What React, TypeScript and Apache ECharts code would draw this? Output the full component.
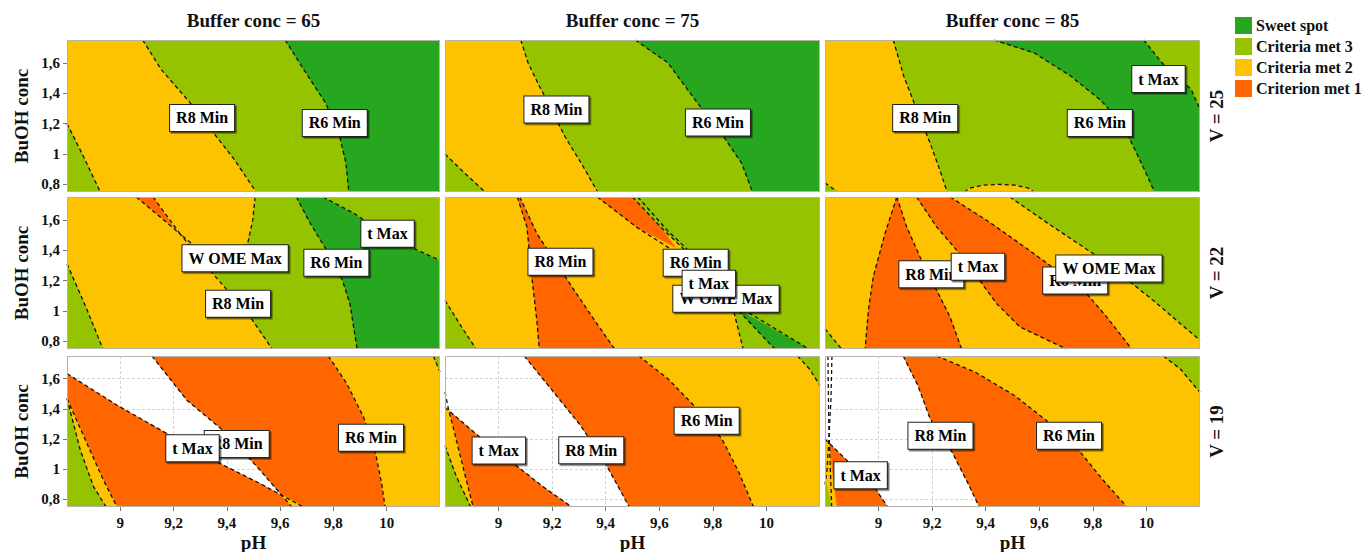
import React, { useEffect, useRef } from 'react';
import * as echarts from 'echarts';

// ---------- axis / facet values ----------
const PH_MIN = 8.8;
const PH_MAX = 10.2;
const BUOH_MIN = 0.75;
const BUOH_MAX = 1.75;
const X_TICKS = [9, 9.2, 9.4, 9.6, 9.8, 10];
const Y_TICKS = [0.8, 1, 1.2, 1.4, 1.6];
const BUFFER_CONCS = [65, 75, 85];
const V_LEVELS = [25, 22, 19];
const CATEGORIES = ['Sweet spot', 'Criteria met 3', 'Criteria met 2', 'Criterion met 1'];

const TL = [PH_MIN, BUOH_MAX];
const TR = [PH_MAX, BUOH_MAX];
const BR = [PH_MAX, BUOH_MIN];
const BL = [PH_MIN, BUOH_MIN];

// ---------- Buffer 65, V 25 ----------
const b65v25Low = [[8.8, 1.2], [8.86, 0.99], [8.925, 0.75]];
const b65v25R8 = [[9.084, 1.75], [9.153, 1.557], [9.262, 1.337], [9.345, 1.15], [9.427, 0.966], [9.51, 0.75]];
const b65v25R6 = [[9.619, 1.75], [9.688, 1.557], [9.77, 1.337], [9.82, 1.139], [9.847, 0.941], [9.858, 0.75]];
const b65v25Labels = [['R8 Min', 9.307, 1.237], ['R6 Min', 9.805, 1.204]];

// ---------- Buffer 75, V 25 ----------
const b75v25Low = [[8.8, 1.0], [8.87, 0.88], [8.95, 0.75]];
const b75v25R8 = [[9.083, 1.75], [9.11, 1.6], [9.152, 1.447], [9.182, 1.348], [9.247, 1.117], [9.315, 0.92], [9.37, 0.75]];
const b75v25R6 = [[9.51, 1.75], [9.632, 1.6], [9.742, 1.337], [9.839, 1.117], [9.907, 0.941], [9.948, 0.75]];
const b75v25Labels = [['R8 Min', 9.216, 1.293], ['R6 Min', 9.819, 1.207]];

// ---------- Buffer 85, V 25 ----------
const b85v25Low = [[8.8, 0.81], [8.848, 0.75]];
const b85v25R8 = [[9.055, 1.75], [9.094, 1.513], [9.147, 1.27], [9.192, 1.073], [9.228, 0.898], [9.256, 0.75]];
const b85v25Bump = [[9.32, 0.75], [9.34, 0.775], [9.39, 0.795], [9.45, 0.8], [9.51, 0.795], [9.56, 0.775], [9.58, 0.75]];
const b85v25R6 = [[9.43, 1.75], [9.58, 1.666], [9.717, 1.513], [9.826, 1.359], [9.908, 1.205], [9.963, 1.007], [10.004, 0.853], [10.03, 0.75]];
const b85v25TMax = [[9.99, 1.75], [10.058, 1.6], [10.167, 1.425], [10.2, 1.295]];
const b85v25Labels = [['R8 Min', 9.174, 1.237], ['R6 Min', 9.826, 1.204], ['t Max', 10.045, 1.493]];

// ---------- Buffer 65, V 22 ----------
const b65v22Low = [[8.8, 1.31], [8.87, 1.03], [8.935, 0.75]];
const b65v22R8 = [[9.06, 1.75], [9.224, 1.508], [9.342, 1.257], [9.488, 0.96], [9.57, 0.75]];
const b65v22LineB = [[9.123, 1.75], [9.224, 1.508], [9.27, 1.44]];
const b65v22Sliver = [[9.06, 1.75], [9.123, 1.75], [9.2, 1.55]];
const b65v22WOME = [[9.506, 1.75], [9.497, 1.596], [9.478, 1.443], [9.42, 1.36], [9.345, 1.262]];
const b65v22R8Lower = [[9.488, 0.96], [9.57, 0.75]];
const b65v22R6 = [[9.661, 1.75], [9.707, 1.596], [9.752, 1.464], [9.8, 1.33], [9.834, 1.201], [9.862, 1.048], [9.889, 0.75]];
const b65v22TMax = [[9.761, 1.75], [9.88, 1.64], [10.025, 1.464], [10.117, 1.399], [10.2, 1.333]];
const b65v22Labels = [['R8 Min', 9.442, 1.048], ['W OME Max', 9.431, 1.347], ['R6 Min', 9.811, 1.318], ['t Max', 10.003, 1.509]];

// ---------- Buffer 75, V 22 ----------
const b75v22Low = [[8.8, 1.07], [8.86, 0.9], [8.916, 0.75]];
const b75v22R8L = [[9.07, 1.75], [9.106, 1.553], [9.124, 1.224], [9.143, 0.938], [9.152, 0.75]];
const b75v22R8R = [[9.079, 1.75], [9.143, 1.509], [9.224, 1.29], [9.333, 1.004], [9.433, 0.75]];
const b75v22S1 = [[9.369, 1.75], [9.514, 1.553], [9.65, 1.399], [9.78, 1.2], [9.895, 1.004], [10.031, 0.75]];
const b75v22Sliver = [[9.369, 1.75], [9.5, 1.75], [9.605, 1.553], [9.66, 1.42], [9.514, 1.553]];
const b75v22G = [[9.5, 1.75], [9.605, 1.553], [9.696, 1.399], [9.786, 1.224], [9.877, 1.004], [9.913, 0.75]];
const b75v22L3 = [[9.52, 1.75], [9.63, 1.53], [9.72, 1.38], [9.81, 1.2], [9.895, 1.03], [10.158, 0.75]];
const b75v22Sweet = [[9.893, 1.01], [10.031, 0.75], [10.158, 0.75]];
const b75v22Labels = [['R8 Min', 9.231, 1.324], ['R6 Min', 9.736, 1.318], ['W OME Max', 9.849, 1.081], ['t Max', 9.785, 1.18]];

// ---------- Buffer 85, V 22 ----------
const b85v22Low = [[8.8, 0.883], [8.862, 0.75]];
const b85v22Left = [[9.068, 1.75], [9.024, 1.509], [8.98, 1.224], [8.962, 1.004], [8.95, 0.75]];
const b85v22R8 = [[9.068, 1.75], [9.105, 1.553], [9.155, 1.355], [9.217, 1.136], [9.267, 0.96], [9.31, 0.75]];
const b85v22TMax = [[9.142, 1.75], [9.217, 1.553], [9.292, 1.399], [9.37, 1.22], [9.441, 1.048], [9.528, 0.895], [9.702, 0.75]];
const b85v22R6 = [[9.267, 1.75], [9.404, 1.596], [9.528, 1.443], [9.64, 1.3], [9.777, 1.114], [9.852, 0.96], [9.945, 0.75]];
const b85v22WOME = [[9.49, 1.75], [9.652, 1.553], [9.839, 1.333], [10.025, 1.07], [10.2, 0.807]];
const b85v22Labels = [['R8 Min', 9.197, 1.242], ['t Max', 9.371, 1.291], ['R6 Min', 9.734, 1.2], ['W OME Max', 9.86, 1.28]];

// ---------- Buffer 65, V 19 ----------
const b65v19G1 = [[8.8, 1.468], [8.85, 1.126], [8.9, 0.883], [8.947, 0.75]];
const b65v19G2 = [[8.8, 1.468], [8.875, 1.17], [8.937, 0.927], [8.988, 0.75]];
const b65v19TMax = [[8.8, 1.633], [8.988, 1.424], [9.175, 1.236], [9.363, 1.048], [9.525, 0.905], [9.687, 0.75]];
const b65v19R8 = [[9.119, 1.75], [9.25, 1.457], [9.4, 1.236], [9.525, 0.993], [9.6, 0.84], [9.644, 0.75]];
const b65v19Cross = [[9.6, 0.838], [9.644, 0.75], [9.687, 0.75]];
const b65v19R6 = [[9.781, 1.75], [9.85, 1.567], [9.913, 1.346], [9.956, 1.125], [9.981, 0.905], [9.994, 0.75]];
const b65v19Corner = [[10.175, 1.75], [10.2, 1.644]];
const b65v19Labels = [['R6 Min', 9.941, 1.209], ['R8 Min', 9.437, 1.168], ['t Max', 9.271, 1.139]];

// ---------- Buffer 75, V 19 ----------
const b75v19G1 = [[8.8, 1.157], [8.841, 0.958], [8.896, 0.75]];
const b75v19Steep = [[8.8, 1.51], [8.814, 1.39], [8.832, 1.267], [8.869, 1.002], [8.905, 0.75]];
const b75v19Yellow = [[8.8, 1.41], [8.814, 1.39], [8.832, 1.267], [8.869, 1.002], [8.905, 0.75]];
const b75v19TMax = [[8.8, 1.41], [8.923, 1.223], [9.051, 1.046], [9.16, 0.892], [9.273, 0.75]];
const b75v19R8 = [[9.096, 1.75], [9.196, 1.532], [9.306, 1.29], [9.397, 1.046], [9.488, 0.75]];
const b75v19R6 = [[9.524, 1.75], [9.633, 1.598], [9.742, 1.399], [9.834, 1.2], [9.897, 0.98], [9.952, 0.75]];
const b75v19Corner = [[10.116, 1.75], [10.161, 1.664], [10.2, 1.554]];
const b75v19Labels = [['t Max', 9.001, 1.124], ['R8 Min', 9.346, 1.126], ['R6 Min', 9.777, 1.322]];

// ---------- Buffer 85, V 19 ----------
const b85v19TMax = [[8.8, 1.2], [8.889, 1.046], [8.98, 0.892], [9.034, 0.75]];
const b85v19Yellow = [[8.8, 1.2], [8.815, 1.175], [8.825, 1.0], [8.843, 0.75]];
const b85v19Green = [[8.8, 0.935], [8.812, 0.85], [8.825, 0.75]];
const b85v19V1 = [[8.811, 1.75], [8.814, 1.3], [8.825, 0.75]];
const b85v19V2 = [[8.826, 1.75], [8.822, 1.45], [8.808, 1.0], [8.8, 0.9]];
const b85v19R8 = [[9.092, 1.75], [9.147, 1.554], [9.193, 1.333], [9.275, 1.112], [9.338, 0.892], [9.376, 0.75]];
const b85v19R6 = [[9.217, 1.75], [9.362, 1.642], [9.508, 1.488], [9.635, 1.311], [9.744, 1.134], [9.835, 0.935], [9.927, 0.75]];
const b85v19Corner = [[10.063, 1.75], [10.127, 1.664], [10.19, 1.53], [10.2, 1.51]];
const b85v19Labels = [['R8 Min', 9.231, 1.222], ['R6 Min', 9.711, 1.222], ['t Max', 8.933, 0.961]];

const rev = (a: number[][]) => a.slice().reverse();

// category index: 0 sweet, 1 met3, 2 met2, 3 met1
const PANELS: any[] = [
  {
    layers: [[2, [TL, TR, BR, BL]], [1, [...b65v25Low, BL]], [1, [...b65v25R8, BR, TR]], [0, [...b65v25R6, BR, TR]]],
    lines: [b65v25Low, b65v25R8, b65v25R6],
    labels: b65v25Labels,
  },
  {
    layers: [[2, [TL, TR, BR, BL]], [1, [...b75v25Low, BL]], [1, [...b75v25R8, BR, TR]], [0, [...b75v25R6, BR, TR]]],
    lines: [b75v25Low, b75v25R8, b75v25R6],
    labels: b75v25Labels,
  },
  {
    layers: [
      [2, [TL, TR, BR, BL]], [1, [...b85v25Low, BL]], [1, [...b85v25R8, BR, TR]], [2, b85v25Bump],
      [0, [...b85v25R6, BR, TR]], [1, [...b85v25TMax, TR]],
    ],
    lines: [b85v25Low, b85v25R8, b85v25Bump, b85v25R6, b85v25TMax],
    labels: b85v25Labels,
  },
  {
    layers: [
      [2, [TL, TR, BR, BL]], [1, [...b65v22Low, BL]], [3, b65v22Sliver],
      [1, [...b65v22WOME, ...b65v22R8Lower, BR, TR]], [0, [...b65v22R6, BR, TR]], [1, [...b65v22TMax, TR]],
    ],
    lines: [b65v22Low, b65v22R8, b65v22LineB, b65v22WOME, b65v22R6, b65v22TMax],
    labels: b65v22Labels,
  },
  {
    layers: [
      [2, [TL, TR, BR, BL]], [1, [...b75v22Low, BL]], [3, [...b75v22R8L, ...rev(b75v22R8R)]], [3, b75v22Sliver],
      [1, [...b75v22G, BR, TR]], [0, b75v22Sweet],
    ],
    lines: [b75v22Low, b75v22R8L, b75v22R8R, b75v22S1, b75v22G, b75v22L3],
    labels: b75v22Labels,
  },
  {
    layers: [
      [2, [TL, TR, BR, BL]], [1, [...b85v22Low, BL]], [3, [...b85v22Left, ...rev(b85v22R8)]],
      [3, [...b85v22TMax, ...rev(b85v22R6)]], [1, [...b85v22WOME, TR]],
    ],
    lines: [b85v22Low, b85v22Left, b85v22R8, b85v22TMax, b85v22R6, b85v22WOME],
    labels: b85v22Labels,
  },
  {
    layers: [
      [3, [...b65v19TMax, BL]], [3, [...b65v19R8, BR, TR]], [2, [...b65v19R6, BR, TR]], [1, [...b65v19Corner, TR]],
      [2, [...b65v19G2, BL]], [1, [...b65v19G1, BL]], [2, b65v19Cross],
    ],
    lines: [b65v19G1, b65v19G2, b65v19TMax, b65v19R8, b65v19R6, b65v19Corner],
    labels: b65v19Labels,
  },
  {
    layers: [
      [3, [...b75v19TMax, BL]], [3, [...b75v19R8, BR, TR]], [2, [...b75v19R6, BR, TR]], [1, [...b75v19Corner, TR]],
      [2, [...b75v19Yellow, BL]], [1, [...b75v19G1, BL]],
    ],
    lines: [b75v19G1, b75v19Steep, b75v19TMax, b75v19R8, b75v19R6, b75v19Corner],
    labels: b75v19Labels,
  },
  {
    layers: [
      [3, [...b85v19TMax, BL]], [3, [...b85v19R8, BR, TR]], [2, [...b85v19R6, BR, TR]], [1, [...b85v19Corner, TR]],
      [2, [...b85v19Yellow, BL]], [1, [...b85v19Green, BL]],
    ],
    lines: [b85v19V1, b85v19V2, b85v19TMax, b85v19R8, b85v19R6, b85v19Corner],
    labels: b85v19Labels,
  },
];

// ---------- styling / layout ----------
const CAT_COLORS = ['#27a61f', '#95c300', '#fdc300', '#ff6600'];
const FONT = "'Liberation Serif', 'Times New Roman', serif";
const COL_LEFT = [67, 445, 825];
const COL_W = [373, 375, 375];
const ROW_TOP = [40, 197, 356];
const ROW_H = [152, 152, 151];

const fmt = (v: number) => String(Math.round(v * 10) / 10).replace('.', ',');

function buildOption() {
  const grid: any[] = [];
  const xAxis: any[] = [];
  const yAxis: any[] = [];
  const series: any[] = [];
  const graphic: any[] = [];

  PANELS.forEach((p, i) => {
    const row = Math.floor(i / 3);
    const col = i % 3;
    grid.push({ left: COL_LEFT[col], top: ROW_TOP[row], width: COL_W[col], height: ROW_H[row], show: false });
    xAxis.push({
      type: 'value', gridIndex: i, min: PH_MIN, max: PH_MAX,
      axisLine: { show: false },
      axisTick: { show: row === 2, customValues: X_TICKS, length: 4, lineStyle: { color: '#777' } },
      axisLabel: {
        show: row === 2, customValues: X_TICKS, formatter: fmt, margin: 8,
        fontSize: 15, fontWeight: 'bold', fontFamily: FONT, color: '#111',
      },
      splitLine: { show: true, lineStyle: { color: '#d4d4d4', type: [3, 2], width: 1 } },
    });
    yAxis.push({
      type: 'value', gridIndex: i, min: BUOH_MIN, max: BUOH_MAX,
      axisLine: { show: false },
      axisTick: { show: col === 0, customValues: Y_TICKS, length: 4, lineStyle: { color: '#777' } },
      axisLabel: {
        show: col === 0, customValues: Y_TICKS, formatter: fmt, margin: 7,
        fontSize: 15, fontWeight: 'bold', fontFamily: FONT, color: '#111',
      },
      splitLine: { show: true, lineStyle: { color: '#d4d4d4', type: [3, 2], width: 1 } },
    });

    p.layers.forEach(([cat, pts]: [number, number[][]]) => {
      series.push({
        type: 'custom', name: CATEGORIES[cat], xAxisIndex: i, yAxisIndex: i,
        clip: true, silent: true, z: 2,
        itemStyle: { color: CAT_COLORS[cat] },
        data: pts,
        renderItem: (params: any, api: any) => {
          if (params.dataIndex !== 0) return null;
          return {
            type: 'polygon',
            shape: { points: pts.map((q) => api.coord(q)) },
            style: { fill: CAT_COLORS[cat], stroke: CAT_COLORS[cat], lineWidth: 0.5 },
          };
        },
      });
    });

    p.lines.forEach((pts: number[][]) => {
      series.push({
        type: 'line', xAxisIndex: i, yAxisIndex: i, data: pts, symbol: 'none', silent: true,
        clip: true, z: 5, animation: false,
        lineStyle: { color: '#111', width: 1.3, type: [4, 3] },
      });
    });

    p.labels.forEach(([text, x, y]: [string, number, number], k: number) => {
      series.push({
        type: 'scatter', xAxisIndex: i, yAxisIndex: i, data: [[x, y]], symbolSize: 1, silent: true,
        itemStyle: { color: 'rgba(0,0,0,0)', opacity: 1 }, z: 10 + k,
        label: {
          show: true, position: 'inside', formatter: text, opacity: 1,
          fontFamily: FONT, fontWeight: 'bold', fontSize: 16, color: '#000', lineHeight: 18,
          backgroundColor: '#ffffff', borderColor: '#222', borderWidth: 1, padding: [4, 6],
          shadowColor: 'rgba(0,0,0,0.6)', shadowOffsetX: 1.5, shadowOffsetY: 1.5, shadowBlur: 0,
        },
      });
    });

    graphic.push({
      type: 'rect', silent: true, z: 100,
      shape: { x: COL_LEFT[col] + 0.5, y: ROW_TOP[row] + 0.5, width: COL_W[col] - 1, height: ROW_H[row] - 1 },
      style: { fill: 'none', stroke: '#b4b4aa', lineWidth: 1 },
    });
  });

  const txt = (text: string, x: number, y: number, size: number, rotation = 0) => ({
    type: 'text', x, y, rotation, silent: true, z: 100,
    style: {
      text, fill: '#111', font: `bold ${size}px ${FONT}`,
      align: 'center', verticalAlign: 'middle', textAlign: 'center', textVerticalAlign: 'middle',
    },
  });

  BUFFER_CONCS.forEach((b, c) => {
    graphic.push(txt(`Buffer conc = ${b}`, COL_LEFT[c] + COL_W[c] / 2, 20, 19));
    graphic.push(txt('pH', COL_LEFT[c] + COL_W[c] / 2, 542, 19));
  });
  V_LEVELS.forEach((v, r) => {
    graphic.push(txt(`V = ${v}`, 1216, ROW_TOP[r] + ROW_H[r] / 2, 19, Math.PI / 2));
    graphic.push(txt('BuOH conc', 21, ROW_TOP[r] + ROW_H[r] / 2, 19, Math.PI / 2));
  });

  return {
    animation: false,
    backgroundColor: '#fff',
    textStyle: { fontFamily: FONT },
    legend: {
      data: CATEGORIES, orient: 'vertical', left: 1230, top: 12, icon: 'rect',
      itemWidth: 17, itemHeight: 17, itemGap: 4, selectedMode: false,
      textStyle: { fontFamily: FONT, fontWeight: 'bold', fontSize: 16, color: '#111', padding: [0, 0, 0, -1] },
    },
    grid, xAxis, yAxis, series, graphic,
  };
}

export default function App() {
  const ref = useRef<HTMLDivElement>(null);
  useEffect(() => {
    if (!ref.current) return;
    const chart = echarts.init(ref.current, undefined, { renderer: 'svg' });
    chart.setOption(buildOption() as any);
    return () => chart.dispose();
  }, []);
  return <div ref={ref} style={{ position: 'fixed', left: 0, top: 0, width: 1362, height: 552 }} />;
}
